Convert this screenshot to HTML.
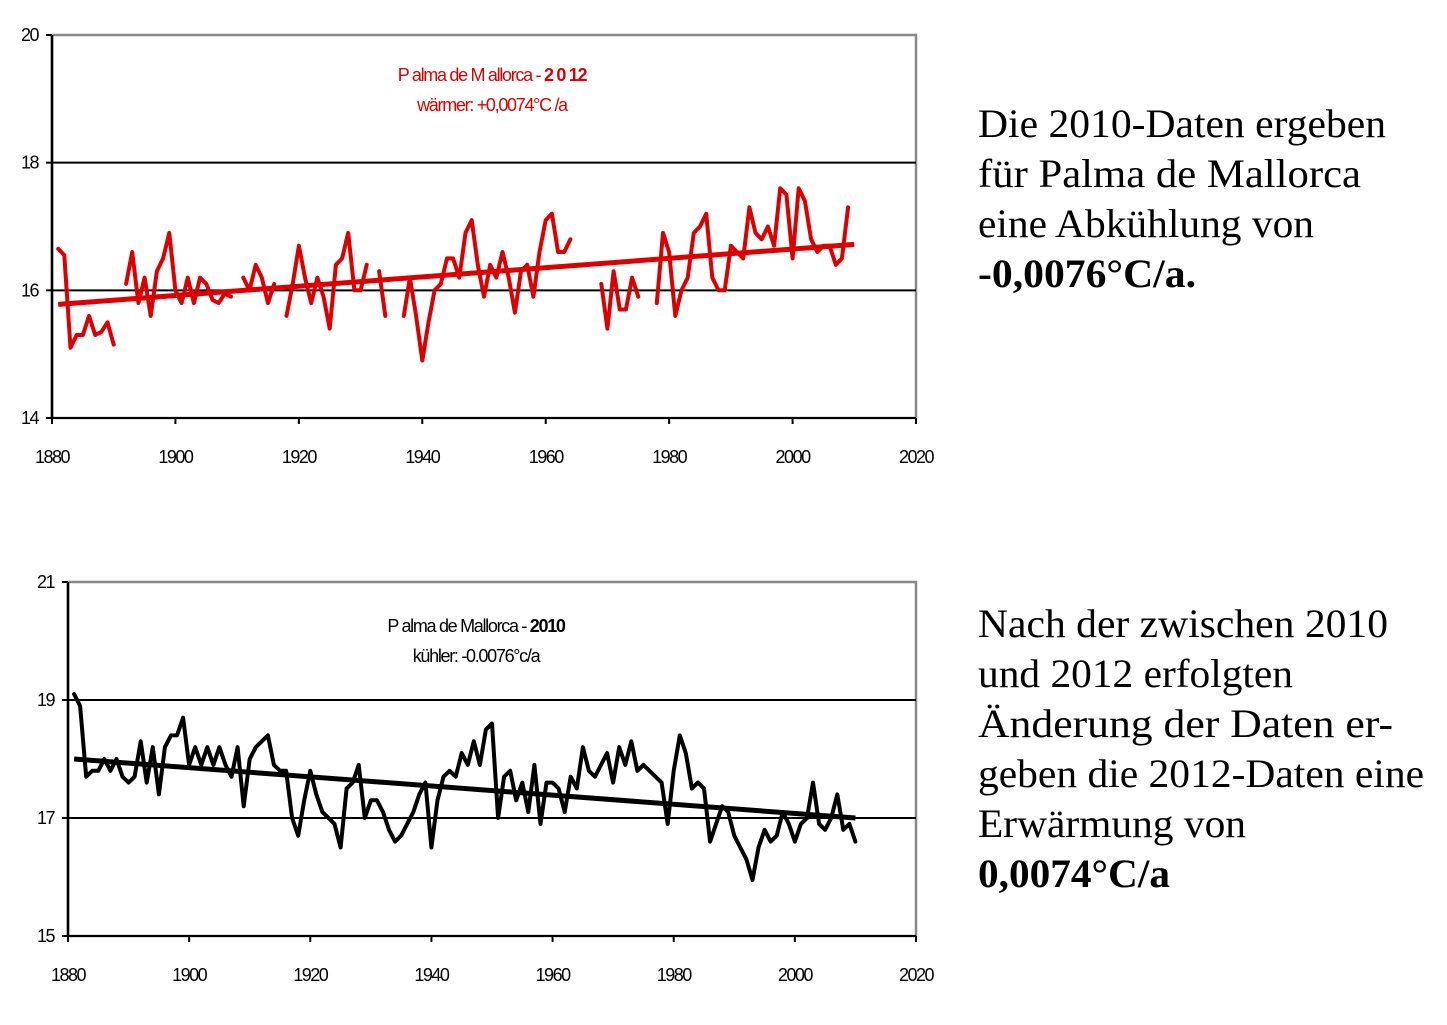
<!DOCTYPE html>
<html><head><meta charset="utf-8"><style>
body{margin:0;background:#fff;width:1447px;height:1025px;overflow:hidden}
svg{display:block}
.t{font-family:"Liberation Sans",sans-serif;font-size:18px;letter-spacing:-1.3px}
.tk{font-family:"Liberation Sans",sans-serif;font-size:18px;letter-spacing:-1.5px}
.rt{font-family:"Liberation Serif",serif;font-size:40px;fill:#000}
</style></head><body>
<svg id="s" width="1447" height="1025">
<g>
<text class="rt" x="978" y="137" textLength="408" lengthAdjust="spacingAndGlyphs">Die 2010-Daten ergeben</text>
<text class="rt" x="978" y="187" textLength="383" lengthAdjust="spacingAndGlyphs">für  Palma de Mallorca</text>
<text class="rt" x="978" y="237" textLength="336" lengthAdjust="spacingAndGlyphs">eine Abkühlung von</text>
<text class="rt" x="978" y="287" font-weight="bold" textLength="218" lengthAdjust="spacingAndGlyphs">-0,0076°C/a.</text>
</g>
<g>
<text class="rt" x="978" y="637" textLength="410" lengthAdjust="spacingAndGlyphs">Nach der zwischen 2010</text>
<text class="rt" x="978" y="687" textLength="315" lengthAdjust="spacingAndGlyphs">und 2012 erfolgten</text>
<text class="rt" x="978" y="737" textLength="415" lengthAdjust="spacingAndGlyphs">Änderung der Daten   er-</text>
<text class="rt" x="978" y="787" textLength="446" lengthAdjust="spacingAndGlyphs">geben die 2012-Daten eine</text>
<text class="rt" x="978" y="837" textLength="268" lengthAdjust="spacingAndGlyphs">Erwärmung von</text>
<text class="rt" x="978" y="887" font-weight="bold" textLength="192" lengthAdjust="spacingAndGlyphs">0,0074°C/a</text>
</g>
</svg>
<script>
const years=[];for(let y=1881;y<=2010;y++)years.push(y);
const topValues=[16.65,16.55,15.1,15.3,15.3,15.6,15.3,15.35,15.5,15.15,
null,16.1,16.6,15.8,16.2,15.6,16.3,16.5,16.9,16.0,15.8,16.2,15.8,16.2,16.1,15.85,15.8,15.95,15.9,
null,16.2,16.0,16.4,16.2,15.8,16.1,null,15.6,16.1,16.7,16.2,15.8,16.2,15.9,15.4,16.4,16.5,16.9,16.0,16.0,16.4,null,16.3,15.6,
null,null,15.6,16.2,15.6,14.9,15.5,16.0,16.1,16.5,16.5,16.2,16.9,17.1,16.4,15.9,16.4,16.2,16.6,16.2,15.65,16.3,16.4,15.9,16.6,17.1,17.2,16.6,16.6,16.8,
null,null,null,null,16.1,15.4,16.3,15.7,15.7,16.2,15.9,null,null,15.8,
16.9,16.6,15.6,16.0,16.2,16.9,17.0,17.2,16.2,16.0,16.0,16.7,16.6,16.5,17.3,16.9,16.8,17.0,16.7,17.6,17.5,16.5,17.6,17.4,16.8,16.6,16.7,16.7,16.4,16.5,17.3];
const topTrend=[15.78,16.72];
const botValues=[19.1,18.9,17.7,17.8,17.8,18.0,17.8,18.0,17.7,17.6,17.7,18.3,17.6,18.2,17.4,18.2,18.4,18.4,18.7,17.9,
18.2,17.9,18.2,17.9,18.2,17.9,17.7,18.2,17.2,18.0,18.2,18.3,18.4,17.9,17.8,17.8,17.0,16.7,17.3,17.8,
17.4,17.1,17.0,16.9,16.5,17.5,17.6,17.9,17.0,17.3,17.3,17.1,16.8,16.6,16.7,16.9,17.1,17.4,17.6,16.5,
17.3,17.7,17.8,17.7,18.1,17.9,18.3,17.9,18.5,18.6,17.0,17.7,17.8,17.3,17.6,17.1,17.9,16.9,17.6,17.6,
17.5,17.1,17.7,17.5,18.2,17.8,17.7,17.9,18.1,17.6,18.2,17.9,18.3,17.8,17.9,17.8,17.7,17.6,16.9,17.8,
18.4,18.1,17.5,17.6,17.5,16.6,16.9,17.2,17.1,16.7,16.5,16.3,15.95,16.5,16.8,16.6,16.7,17.1,16.9,16.6,
16.9,17.0,17.6,16.9,16.8,17.0,17.4,16.8,16.9,16.6];
const botTrend=[18.0,17.0];
const xTicks=[1880,1900,1920,1940,1960,1980,2000,2020];
const topYTicks=[14,16,18,20];
const botYTicks=[15,17,19,21];

const NS="http://www.w3.org/2000/svg",svg=document.getElementById('s');
function el(t,a,p){const e=document.createElementNS(NS,t);for(const k in a)e.setAttribute(k,a[k]);(p||svg).appendChild(e);return e;}
function chart(o){
  const g=el('g',{});
  
  
  const X=v=>o.x0+(v-1880)*(o.x1-o.x0)/140;
  const Y=v=>o.y1-(v-o.ymin)*(o.y1-o.y0)/(o.ymax-o.ymin);
  const r=el('rect',{x:o.x0,y:o.y0,width:o.x1-o.x0,height:o.y1-o.y0,fill:'none',stroke:'#888','stroke-width':2.5},g);
  
  o.yt.forEach((t,i)=>{
    if(i>0&&i<o.yt.length-1){const gl=el('line',{x1:o.x0,x2:o.x1,y1:Y(t),y2:Y(t),stroke:'#000','stroke-width':2},g);
      }
    el('line',{x1:o.x0-6,x2:o.x0,y1:Y(t),y2:Y(t),stroke:'#000','stroke-width':2},g);
    const tx=el('text',{x:o.x0-14,y:Y(t)+6,'text-anchor':'end',class:'tk',fill:'#000'},g);tx.textContent=t;
    
  });
  el('line',{x1:o.x0,x2:o.x0,y1:o.y0,y2:o.y1,stroke:'#000','stroke-width':2.5},g);
  el('line',{x1:o.x0,x2:o.x1,y1:o.y1,y2:o.y1,stroke:'#000','stroke-width':2},g);
  xTicks.forEach(t=>{
    el('line',{x1:X(t),x2:X(t),y1:o.y1,y2:o.y1+6,stroke:'#000','stroke-width':2},g);
    const tx=el('text',{x:X(t),y:o.y1+45,'text-anchor':'middle',class:'tk',fill:'#000'},g);tx.textContent=t;
    
  });
  let d='',pen=false;
  o.vals.forEach((v,i)=>{if(v==null){pen=false;return;}d+=(pen?'L':'M')+X(years[i]).toFixed(1)+' '+Y(v).toFixed(1);pen=true;});
  const p=el('path',{d:d,fill:'none',stroke:o.col,'stroke-width':4,'stroke-linejoin':'round','stroke-linecap':'round'},g);
  
  const tl=el('line',{x1:X(1881),x2:X(2010),y1:Y(o.tr[0]),y2:Y(o.tr[1]),stroke:o.col,'stroke-width':5},g);
  
  const t1=el('text',{x:o.tx,y:o.ty,'text-anchor':'middle',class:'t',fill:o.col},g);
  t1.innerHTML=o.t1;
  const t2=el('text',{x:o.tx,y:o.ty+30,'text-anchor':'middle',class:'t',fill:o.col},g);
  t2.textContent=o.t2;
}
chart({name:'chart-2012',x0:52,x1:916,y0:35,y1:418,ymin:14,ymax:20,yt:topYTicks,vals:topValues,tr:topTrend,col:'#dd0000',
 tx:492,ty:81,t1:'P alma de M allorca - <tspan font-weight="bold">2 0 12</tspan>',t2:'wärmer: +0,0074°C /a'});
chart({name:'chart-2010',x0:68,x1:916,y0:582,y1:936,ymin:15,ymax:21,yt:botYTicks,vals:botValues,tr:botTrend,col:'#000',
 tx:476,ty:632,t1:'P alma de Mallorca - <tspan font-weight="bold">2010</tspan>',t2:'kühler: -0.0076°c/a'});
</script>
</body></html>
